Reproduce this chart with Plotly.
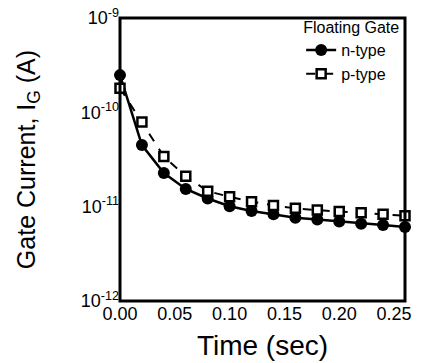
import plotly.graph_objects as go

time_s = [0.00, 0.02, 0.04, 0.06, 0.08, 0.10, 0.12, 0.14, 0.16, 0.18, 0.20, 0.22, 0.24, 0.26]
n_type = [2.48e-10, 4.5e-11, 2.27e-11, 1.54e-11, 1.22e-11, 1.01e-11, 9.0e-12, 8.3e-12,
          7.65e-12, 7.3e-12, 6.95e-12, 6.6e-12, 6.4e-12, 6.1e-12]
p_type = [1.8e-10, 7.9e-11, 3.4e-11, 2.1e-11, 1.46e-11, 1.27e-11, 1.13e-11, 1.03e-11,
          9.6e-12, 9.2e-12, 8.9e-12, 8.6e-12, 8.3e-12, 8.0e-12]
y_tickvals = [1e-12, 1e-11, 1e-10, 1e-9]
y_ticktext = ["10<sup>-12</sup>", "10<sup>-11</sup>", "10<sup>-10</sup>", "10<sup>-9</sup>"]
y_minorvals = [m * d for d in [1e-12, 1e-11, 1e-10] for m in range(2, 10)]
x_tickvals = [0.00, 0.05, 0.10, 0.15, 0.20, 0.25]
x_ticktext = ["0.00", "0.05", "0.10", "0.15", "0.20", "0.25"]
x_minorvals = [i / 100 for i in range(0, 27)]

FONT = "Liberation Sans, Arial, sans-serif"
X_RANGE = [0, 0.26]
Y_RANGE = [-12, -9]

fig = go.Figure()
fig.add_trace(go.Scatter(
    x=time_s, y=n_type, name="n-type", mode="lines+markers",
    line=dict(color="black", width=2.5),
    marker=dict(symbol="circle", size=12, color="black"),
    cliponaxis=False,
))
fig.add_trace(go.Scatter(
    x=time_s, y=p_type, name="p-type", mode="lines+markers",
    line=dict(color="black", width=2, dash="dash"),
    marker=dict(symbol="square", size=9, color="white", line=dict(color="black", width=2.5)),
    cliponaxis=False,
))

# plot frame
fig.add_shape(type="rect", xref="x domain", yref="y domain", x0=0, x1=1, y0=0, y1=1,
              line=dict(color="black", width=3), layer="above")

tick_common = dict(showticklabels=False, showline=False, showgrid=False, zeroline=False,
                   ticks="outside", tickcolor="black", tickwidth=1.5)

fig.update_layout(
    width=430, height=363,
    margin=dict(l=120, r=25, t=15, b=62),
    paper_bgcolor="white", plot_bgcolor="white",
    font=dict(family=FONT, color="black"),
    showlegend=True,
    legend=dict(
        title=dict(text="Floating Gate", font=dict(size=16, family=FONT)),
        font=dict(size=16, family=FONT),
        x=0.99, y=1.02, xanchor="right", yanchor="top",
        bgcolor="rgba(0,0,0,0)", tracegroupgap=0,
    ),
    xaxis=dict(
        range=X_RANGE, tickmode="array", tickvals=x_tickvals, ticktext=x_ticktext,
        ticks="", showline=False, showgrid=False, zeroline=False, automargin=False,
        tickfont=dict(size=18, family=FONT),
        title=dict(text="Time (sec)", font=dict(size=28, family=FONT), standoff=12),
    ),
    yaxis=dict(
        type="log", range=Y_RANGE, tickmode="array", tickvals=y_tickvals, ticktext=y_ticktext,
        ticks="", showline=False, showgrid=False, zeroline=False, automargin=False,
        tickfont=dict(size=18, family=FONT),
        title=dict(text="Gate Current, I<sub>G</sub> (A)", font=dict(size=25, family=FONT), standoff=38),
    ),
    # tick-only axes: placed on the plot's left/bottom edges with ticks pointing inward
    xaxis2=dict(range=X_RANGE, overlaying="x", side="top", anchor="free", position=0,
                tickmode="array", tickvals=x_minorvals, ticklen=6, **tick_common),
    yaxis2=dict(type="log", range=Y_RANGE, overlaying="y", side="right", anchor="free", position=0,
                tickmode="array", tickvals=y_minorvals, ticklen=5, **tick_common),
    yaxis3=dict(type="log", range=Y_RANGE, overlaying="y", side="right", anchor="free", position=0,
                tickmode="array", tickvals=y_tickvals, ticklen=10, **tick_common),
)

fig.write_html("out.html")
